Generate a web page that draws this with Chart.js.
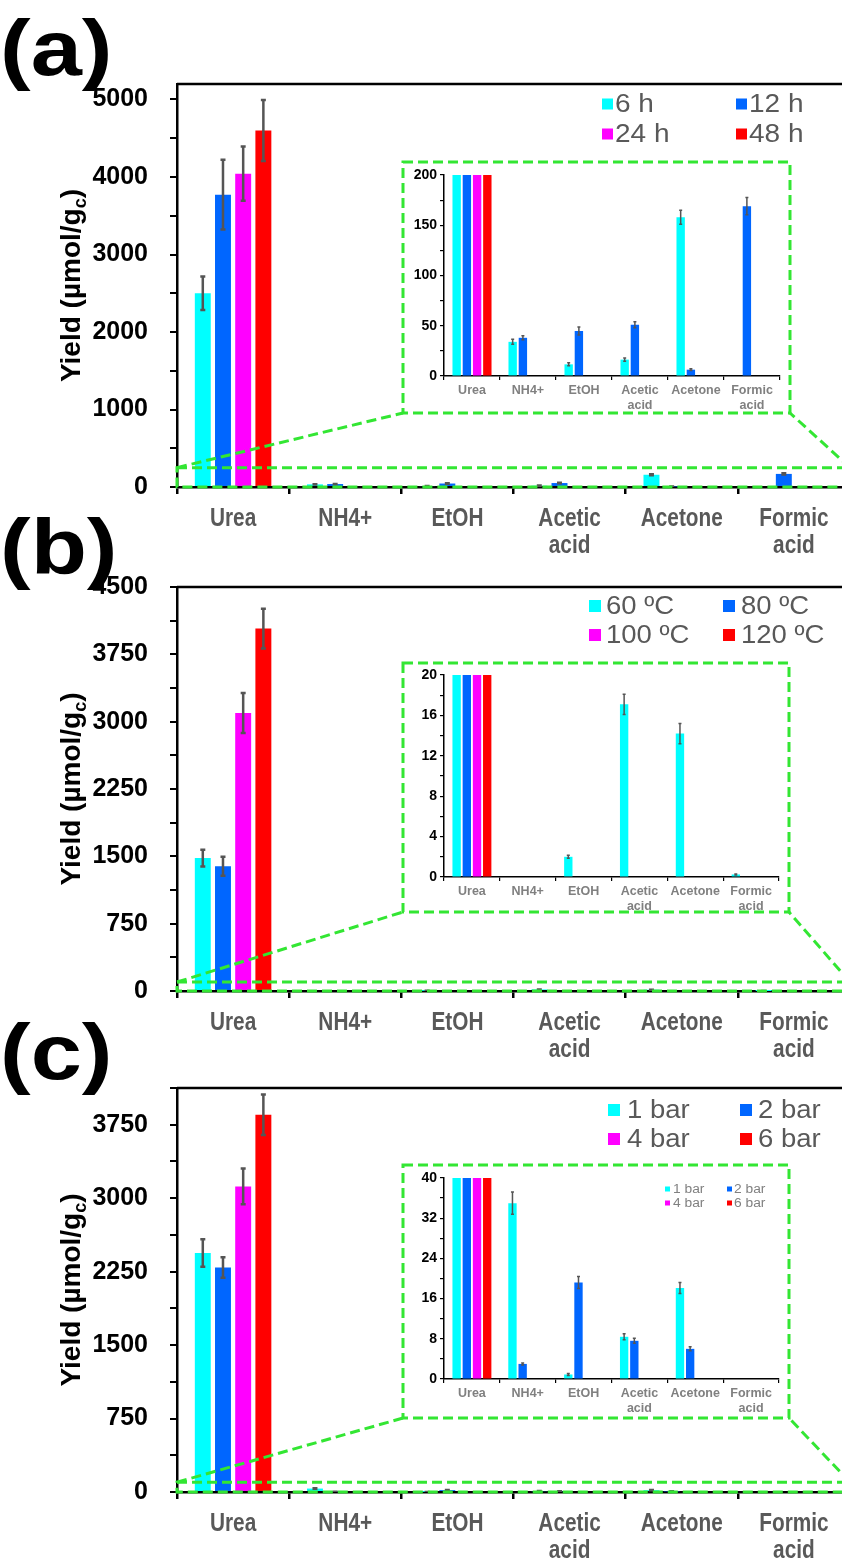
<!DOCTYPE html>
<html>
<head>
<meta charset="utf-8">
<script src="https://cdn.jsdelivr.net/npm/chart.js@4.4.0/dist/chart.umd.min.js"></script>
<style>
  html, body { margin: 0; padding: 0; background: #fff; }
  .wrap { position: relative; width: 842px; height: 1560px; overflow: hidden; }
  canvas { position: absolute; }
  .tag { position: absolute; left: 0; font: bold 78px "Liberation Sans", Arial, sans-serif;
         line-height: 78px; transform: scaleX(1.18); transform-origin: left top; z-index: 5; }
</style>
</head>
<body>
<div class="wrap">
  <canvas id="mainA"></canvas>
  <canvas id="insetA"></canvas>
  <canvas id="mainB"></canvas>
  <canvas id="insetB"></canvas>
  <canvas id="mainC"></canvas>
  <canvas id="insetC"></canvas>
  <div class="tag" style="top:9px">(a)</div>
  <div class="tag" style="top:508px">(b)</div>
  <div class="tag" style="top:1013px">(c)</div>
</div>
<script>
// ---- data ----
const categories = ['Urea', 'NH4+', 'EtOH', ['Acetic', 'acid'], 'Acetone', ['Formic', 'acid']];
const seriesColors = ['#00ffff', '#0066ff', '#ff00ff', '#ff0000'];

// (a) reaction time
const timeLabels = ['6 h', '12 h', '24 h', '48 h'];
const yield6h  = [2500, 34, 11.6, 16.3, 158, 0];
const yield12h = [3772, 38, 44.8, 51, 6.3, 169];
const yield24h = [4042, 0, 0, 0, 0, 0];
const yield48h = [4600, 0, 0, 0, 0, 0];
const err6h  = [215, 2.5, 1.5, 1.5, 7, 0];
const err12h = [450, 2, 4, 3, 0.8, 8.5];
const err24h = [350, 0, 0, 0, 0, 0];
const err48h = [395, 0, 0, 0, 0, 0];
const yTicksA = [0, 1000, 2000, 3000, 4000, 5000];
const insetTicksA = [0, 50, 100, 150, 200];

// (b) temperature
const tempLabels = ['60 ºC', '80 ºC', '100 ºC', '120 ºC'];
const yield60C  = [1481, 0, 2.0, 17.1, 14.2, 0.25];
const yield80C  = [1389, 0, 0, 0, 0, 0];
const yield100C = [3097, 0, 0, 0, 0, 0];
const yield120C = [4037, 0, 0, 0, 0, 0];
const err60C  = [93, 0, 0.15, 1.0, 1.0, 0.05];
const err80C  = [105, 0, 0, 0, 0, 0];
const err100C = [222, 0, 0, 0, 0, 0];
const err120C = [222, 0, 0, 0, 0, 0];
const yTicksB = [0, 750, 1500, 2250, 3000, 3750, 4500];
const insetTicksB = [0, 4, 8, 12, 16, 20];

// (c) pressure
const pressLabels = ['1 bar', '2 bar', '4 bar', '6 bar'];
const yield1bar = [2440, 35.0, 0.9, 8.4, 18.1, 0];
const yield2bar = [2293, 3.0, 19.2, 7.6, 6.0, 0];
const yield4bar = [3120, 0, 0, 0, 0, 0];
const yield6bar = [3852, 0, 0, 0, 0, 0];
const err1bar = [140, 2.2, 0.2, 0.6, 1.1, 0];
const err2bar = [105, 0.2, 1.2, 0.5, 0.4, 0];
const err4bar = [182, 0, 0, 0, 0, 0];
const err6bar = [207, 0, 0, 0, 0, 0];
const yTicksC = [0, 750, 1500, 2250, 3000, 3750];
const insetTicksC = [0, 8, 16, 24, 32, 40];

// ---- drawing ----
const FONT = '"Liberation Sans", Arial, sans-serif';
const GREEN = '#33e633';
Chart.defaults.font.family = FONT;

function errorBars(errors, lw, cap) {
  return {
    id: 'errbars',
    afterDatasetsDraw(c) {
      const ctx = c.ctx, a = c.chartArea, ys = c.scales.y;
      ctx.save();
      ctx.beginPath();
      ctx.rect(a.left, a.top - 1, a.right - a.left, a.bottom - a.top + 1);
      ctx.clip();
      ctx.strokeStyle = '#555555';
      ctx.lineWidth = lw;
      errors.forEach((errs, i) => {
        const meta = c.getDatasetMeta(i);
        errs.forEach((e, j) => {
          if (!e) return;
          const v = c.data.datasets[i].data[j];
          const x = meta.data[j].x;
          const yt = ys.getPixelForValue(v + e), yb = ys.getPixelForValue(Math.max(v - e, 0));
          ctx.beginPath();
          ctx.moveTo(x, yt); ctx.lineTo(x, yb);
          ctx.moveTo(x - cap, yt); ctx.lineTo(x + cap, yt);
          ctx.moveTo(x - cap, yb); ctx.lineTo(x + cap, yb);
          ctx.stroke();
        });
      });
      ctx.restore();
    }
  };
}

// 2x2 legend, text slightly stretched like the original figure
function legendGrid(L, top) {
  return {
    id: 'legendGrid',
    afterDraw(c) {
      const ctx = c.ctx;
      ctx.save();
      ctx.font = L.font;
      ctx.textBaseline = 'middle';
      c.data.datasets.forEach((d, i) => {
        const col = i % 2, row = Math.floor(i / 2);
        const y = L.rows[row] - top;
        ctx.fillStyle = d.backgroundColor;
        ctx.fillRect(L.sx[col], y - L.sq / 2, L.sq, L.sq);
        ctx.fillStyle = L.color;
        ctx.save();
        ctx.translate(L.tx[col], y + 1);
        ctx.scale(L.stretch || 1, 1);
        ctx.fillText(d.label, 0, 0);
        ctx.restore();
      });
      ctx.restore();
    }
  };
}

function yTickBuilder(max, step) {
  return s => {
    const t = [];
    for (let k = 0; k * step <= max + 1e-9; k++) t.push({ value: k * step });
    s.ticks = t;
  };
}

function makeMain(p) {
  const cv = document.getElementById(p.id);
  cv.width = 860; cv.height = p.h;
  cv.style.left = '0px'; cv.style.top = p.top + 'px';
  const box = p.box;
  const deco = {
    id: 'deco',
    afterDraw(c) {
      const ctx = c.ctx, a = c.chartArea, ys = c.scales.y, xs = c.scales.x;
      ctx.save();
      // top frame line
      ctx.strokeStyle = '#000'; ctx.lineWidth = 2.5;
      ctx.beginPath(); ctx.moveTo(a.left, a.top); ctx.lineTo(a.right + 20, a.top); ctx.stroke();
      // category labels, condensed
      ctx.fillStyle = '#595959'; ctx.font = 'bold 26px ' + FONT;
      ctx.textAlign = 'center'; ctx.textBaseline = 'middle';
      c.data.labels.forEach((lab, i) => {
        const lines = Array.isArray(lab) ? lab : [lab];
        const x = xs.getPixelForValue(i);
        lines.forEach((t, k) => {
          ctx.save();
          ctx.translate(x, a.bottom + 32 + k * 27);
          ctx.scale(0.8, 1);
          ctx.fillText(t, 0, 0);
          ctx.restore();
        });
      });
      // y axis title
      ctx.textAlign = 'left';
      ctx.translate(80, (a.top + a.bottom) / 2);
      ctx.rotate(-Math.PI / 2);
      const big = 'bold 28px ' + FONT, small = 'bold 18px ' + FONT;
      ctx.font = big; const w1 = ctx.measureText('Yield (µmol/g').width;
      ctx.font = small; const w2 = ctx.measureText('c').width;
      ctx.font = big; const w3 = ctx.measureText(')').width;
      let x = -(w1 + w2 + w3) / 2;
      ctx.fillStyle = '#000'; ctx.textBaseline = 'alphabetic';
      ctx.fillText('Yield (µmol/g', x, 0); x += w1;
      ctx.font = small; ctx.fillText('c', x, 6); x += w2;
      ctx.font = big; ctx.fillText(')', x, 0);
      ctx.restore();
      // green zoom guide
      const y0 = ys.getPixelForValue(0), yz = ys.getPixelForValue(p.zoomTop);
      ctx.save();
      ctx.strokeStyle = GREEN; ctx.lineWidth = 3; ctx.setLineDash([10, 5]);
      ctx.strokeRect(a.left, yz, a.right - a.left, y0 - yz);
      ctx.beginPath();
      ctx.moveTo(a.left, yz); ctx.lineTo(box.x0, box.y1 - p.top);
      ctx.moveTo(a.right, yz); ctx.lineTo(box.x1, box.y1 - p.top);
      ctx.stroke();
      ctx.strokeRect(box.x0, box.y0 - p.top, box.x1 - box.x0, box.y1 - box.y0);
      ctx.restore();
    }
  };
  return new Chart(cv, {
    type: 'bar',
    data: {
      labels: categories,
      datasets: p.series.map((s, i) => ({
        label: p.names[i], data: s, backgroundColor: seriesColors[i],
        categoryPercentage: 0.72, barPercentage: 0.79
      }))
    },
    options: {
      responsive: false, animation: false, events: [],
      layout: { padding: { top: p.padTop, right: 10, bottom: p.h - p.padTop - p.plotH - 60, left: 0 } },
      plugins: { legend: { display: false }, tooltip: { enabled: false } },
      scales: {
        x: {
          grid: { offset: true, drawOnChartArea: false, tickLength: 7, color: '#000', lineWidth: 2.5 },
          border: { color: '#000', width: 2.5 },
          ticks: { display: false },
          afterFit: s => { s.height = 60; s.paddingLeft = 0; s.paddingRight = 0; }
        },
        y: {
          min: 0, max: p.max,
          ticks: { font: { weight: 'bold', size: 25 }, color: '#000', padding: 22, autoSkip: false,
                   callback: v => p.ticks.includes(v) ? String(v) : '' },
          grid: { drawOnChartArea: false, tickLength: 7, color: '#000', lineWidth: 2 },
          border: { color: '#000', width: 2.5 },
          afterBuildTicks: yTickBuilder(p.max, p.minor),
          afterFit: s => { s.width = 177; s.paddingTop = 0; s.paddingBottom = 0; }
        }
      }
    },
    plugins: [errorBars(p.errors, 2.5, 2.5), legendGrid(p.legend, p.top), deco]
  });
}

function makeInset(p) {
  const cv = document.getElementById(p.id);
  const b = p.box;
  cv.width = b.x1 - b.x0; cv.height = b.y1 - b.y0;
  cv.style.left = b.x0 + 'px'; cv.style.top = b.y0 + 'px';
  const plugins = [errorBars(p.errors, 1.5, 1.5)];
  if (p.legend) plugins.push(legendGrid(p.legend, 0));
  return new Chart(cv, {
    type: 'bar',
    data: {
      labels: categories,
      datasets: p.series.map((s, i) => ({
        label: p.names[i], data: s, backgroundColor: seriesColors[i],
        categoryPercentage: 0.73, barPercentage: 0.82
      }))
    },
    options: {
      responsive: false, animation: false, events: [],
      layout: { padding: { top: p.plotTop - b.y0, right: 10, bottom: 0, left: 0 } },
      plugins: { legend: { display: false }, tooltip: { enabled: false } },
      scales: {
        x: {
          grid: { offset: true, drawOnChartArea: false, tickLength: 4, color: '#000', lineWidth: 1.2 },
          border: { color: '#000', width: 1.5 },
          ticks: { font: { weight: 'bold', size: 12.5, lineHeight: 1.2 }, color: '#808080',
                   padding: 3, maxRotation: 0, autoSkip: false },
          afterFit: s => { s.height = b.y1 - p.plotBottom; s.paddingLeft = 0; s.paddingRight = 0; }
        },
        y: {
          min: 0, max: p.max,
          ticks: { font: { weight: 'bold', size: 14 }, color: '#000', padding: 3, autoSkip: false,
                   callback: v => p.ticks.includes(v) ? String(v) : '' },
          grid: { drawOnChartArea: false, tickLength: 4, color: '#000', lineWidth: 1.2 },
          border: { color: '#000', width: 1.5 },
          afterBuildTicks: yTickBuilder(p.max, p.minor),
          afterFit: s => { s.width = 444 - b.x0; s.paddingTop = 0; s.paddingBottom = 0; }
        }
      }
    },
    plugins
  });
}

const boxA = { x0: 403, y0: 162, x1: 790, y1: 413 };
const boxB = { x0: 403, y0: 663, x1: 789, y1: 912 };
const boxC = { x0: 403, y0: 1165, x1: 789, y1: 1418 };

makeMain({
  id: 'mainA', top: 0, h: 565, padTop: 84, plotH: 403, max: 5200, minor: 500, ticks: yTicksA,
  series: [yield6h, yield12h, yield24h, yield48h], names: timeLabels,
  errors: [err6h, err12h, err24h, err48h], zoomTop: 250, box: boxA,
  legend: { font: '25px ' + FONT, color: '#595959', sq: 11, stretch: 1.12, sx: [602, 736], tx: [615, 749], rows: [104, 134] }
});
makeInset({
  id: 'insetA', box: boxA, plotTop: 175, plotBottom: 376, max: 200, minor: 25, ticks: insetTicksA,
  series: [yield6h, yield12h, yield24h, yield48h], names: timeLabels,
  errors: [err6h, err12h, err24h, err48h]
});

makeMain({
  id: 'mainB', top: 565, h: 500, padTop: 22, plotH: 404, max: 4500, minor: 375, ticks: yTicksB,
  series: [yield60C, yield80C, yield100C, yield120C], names: tempLabels,
  errors: [err60C, err80C, err100C, err120C], zoomTop: 100, box: boxB,
  legend: { font: '25px ' + FONT, color: '#595959', sq: 12, stretch: 1.1, sx: [589, 723], tx: [606, 741], rows: [606, 635] }
});
makeInset({
  id: 'insetB', box: boxB, plotTop: 675, plotBottom: 877, max: 20, minor: 2, ticks: insetTicksB,
  series: [yield60C, yield80C, yield100C, yield120C], names: tempLabels,
  errors: [err60C, err80C, err100C, err120C]
});

makeMain({
  id: 'mainC', top: 1065, h: 495, padTop: 23, plotH: 404, max: 4125, minor: 375, ticks: yTicksC,
  series: [yield1bar, yield2bar, yield4bar, yield6bar], names: pressLabels,
  errors: [err1bar, err2bar, err4bar, err6bar], zoomTop: 100, box: boxC,
  legend: { font: '25px ' + FONT, color: '#595959', sq: 12, stretch: 1.1, sx: [608, 740], tx: [627, 758], rows: [1110, 1139] }
});
makeInset({
  id: 'insetC', box: boxC, plotTop: 1178, plotBottom: 1379, max: 40, minor: 4, ticks: insetTicksC,
  series: [yield1bar, yield2bar, yield4bar, yield6bar], names: pressLabels,
  errors: [err1bar, err2bar, err4bar, err6bar],
  legend: { font: '12px ' + FONT, color: '#808080', sq: 5, stretch: 1.15, sx: [262, 324], tx: [270, 331], rows: [24, 38] }
});
</script>
</body>
</html>
